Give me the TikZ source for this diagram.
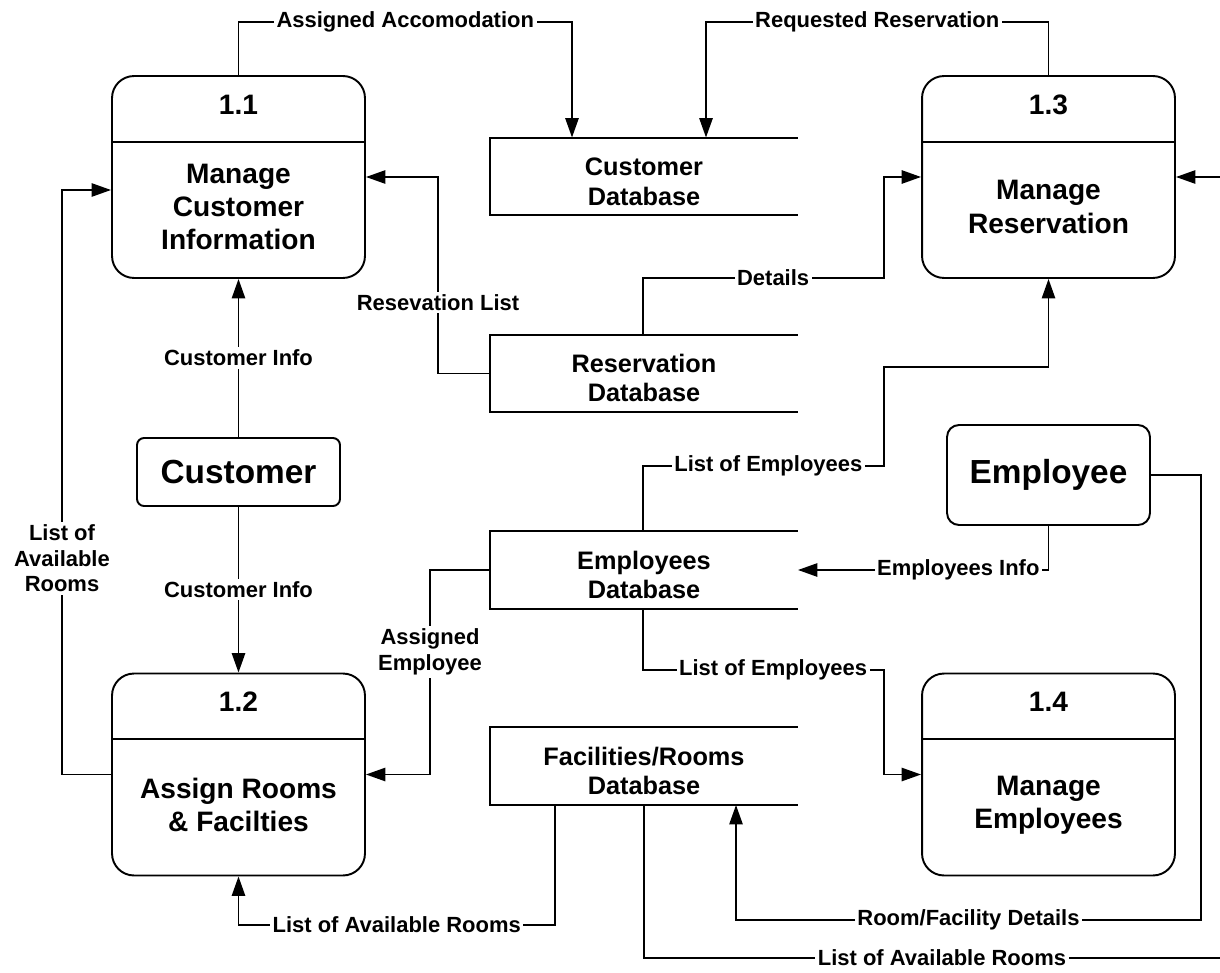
\documentclass[tikz,border=0pt]{standalone}
\usepackage{fontspec}
\setmainfont{Liberation Sans}
\usetikzlibrary{arrows.meta}

\begin{document}
\begin{tikzpicture}[x=0.02cm,y=-0.02cm,line width=1.1pt,>={Triangle[length=11pt,width=7.5pt]},
  proc/.style={draw,rounded corners=0.44cm,minimum width=5.06cm,minimum height=4.04cm},
  ent/.style={draw,rounded corners=0.14cm,minimum width=4.06cm,font=\bfseries\fontsize{19pt}{22pt}\selectfont},
  store/.style={minimum width=6.12cm,minimum height=1.52cm},
  stext/.style={align=center,font=\bfseries\fontsize{14.4pt}{17pt}\selectfont},
  num/.style={font=\bfseries\fontsize{16pt}{19pt}\selectfont},
  ptext/.style={align=center,font=\bfseries\fontsize{16pt}{19pt}\selectfont},
  lbl/.style={fill=white,inner sep=1.5pt,align=center,font=\bfseries\fontsize{12.5pt}{14.7pt}\selectfont}]
  \useasboundingbox (0,0) rectangle (1220,973);
  \clip (0,0) rectangle (1220,973);

  % processes
  \node[proc] (p11) at (238.5,177) {};
  \draw (p11.west |- 0,142) -- (p11.east |- 0,142);
  \node[num] (p11num) at (238.5,105) {1.1};
  \node[ptext] (p11txt) at (238.5,207) {Manage\\Customer\\Information};

  \node[proc] (p13) at (1048.5,177) {};
  \draw (p13.west |- 0,142) -- (p13.east |- 0,142);
  \node[num] (p13num) at (1048.5,105) {1.3};
  \node[ptext] (p13txt) at (1048.5,207) {Manage\\Reservation};

  \node[proc] (p12) at (238.5,774.5) {};
  \draw (p12.west |- 0,739) -- (p12.east |- 0,739);
  \node[num] (p12num) at (238.5,702) {1.2};
  \node[ptext] (p12txt) at (238.5,805) {Assign Rooms\\\& Facilties};

  \node[proc] (p14) at (1048.5,774.5) {};
  \draw (p14.west |- 0,739) -- (p14.east |- 0,739);
  \node[num] (p14num) at (1048.5,702) {1.4};
  \node[ptext] (p14txt) at (1048.5,805) {Manage\\Employees};

  % external entities
  \node[ent,minimum height=1.36cm] (cust) at (238.5,472) {Customer};
  \node[ent,minimum height=2cm,rounded corners=0.24cm] (emp) at (1048.5,475) {Employee};

  % data stores
  \node[store] (cdb) at (644,176.5) {};
  \node[store] (rdb) at (644,373.5) {};
  \node[store] (edb) at (644,570) {};
  \node[store] (fdb) at (644,766) {};
  \foreach \s in {cdb,rdb,edb,fdb}
    \draw (\s.north east) -- (\s.north west) -- (\s.south west) -- (\s.south east);
  \node[stext] (cdbtxt) at (644,182) {Customer\\Database};
  \node[stext] (rdbtxt) at (644,378) {Reservation\\Database};
  \node[stext] (edbtxt) at (644,575) {Employees\\Database};
  \node[stext] (fdbtxt) at (644,771) {Facilities/Rooms\\Database};

  % flows
  \draw[->] (p11.north) -- (238.5,22) -| (cdb.north -| 572,0) node[lbl,pos=0.25] {Assigned Accomodation};
  \draw[->] (p13.north) -- (1048.5,22) -| (cdb.north -| 706,0) node[lbl,pos=0.25] {Requested Reservation};
  \draw[->] (rdb.north -| 643,0) |- (884,278) node[lbl,pos=0.77] {Details} |- (p13.west);
  \draw[->] (rdb.west) -| (438,177) node[lbl,pos=0.68] {Resevation List} -- (p11.east);
  \draw[->] (cust.north) -- (p11.south) node[lbl,midway] {Customer Info};
  \draw[->] (cust.south) -- (p12.north) node[lbl,midway] {Customer Info};
  \draw[->] (p12.west) -| (62,190) node[lbl,pos=0.685] {List of\\Available\\Rooms} -- (p11.west |- 0,190);
  \draw[->] (edb.north -| 643,0) |- (884,466) node[lbl,pos=0.76] {List of Employees} |- (1048.5,367) -- (p13.south);
  \draw[->] (emp.south) |- (edb.east) node[lbl,pos=0.68] {Employees Info};
  \draw[->] (edb.west) -- (430,570) |- (p12.east) node[lbl,pos=0.2] {Assigned\\Employee};
  \draw[->] (edb.south -| 643,0) |- (884,670) node[lbl,pos=0.77] {List of Employees} |- (p14.west);
  \draw[->] (fdb.south -| 555,0) |- (p12.south |- 0,925) node[lbl,pos=0.75] {List of Available Rooms} -- (p12.south);
  \draw[->] (emp.east) -| (1201,920) -| (fdb.south -| 736,0) node[lbl,pos=0.25] {Room/Facility Details};
  \draw[->] (fdb.south) |- (1240,958) node[lbl,pos=0.75] {List of Available Rooms} |- (p13.east);
\end{tikzpicture}
\end{document}
